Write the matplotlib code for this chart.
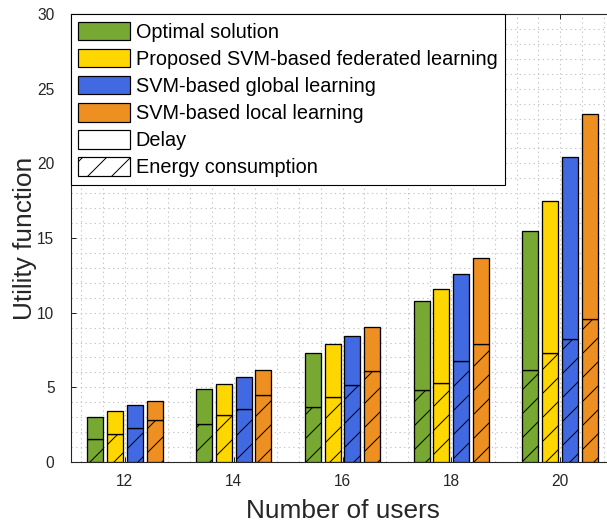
import numpy as np
import matplotlib
matplotlib.use('Agg')
import matplotlib.pyplot as plt
from matplotlib.patches import Patch
from matplotlib.ticker import MultipleLocator

# drawn at 72 dpi so that 1 pt == 1 px (also gives a 12 px hatch pitch)
DPI = 72
plt.rcParams['font.family'] = ['Liberation Sans', 'DejaVu Sans']
plt.rcParams['hatch.linewidth'] = 1.0

users = ['12', '14', '16', '18', '20']
schemes = ['Optimal solution', 'Proposed SVM-based federated learning',
           'SVM-based global learning', 'SVM-based local learning']
colors = ['#77a832', '#ffd700', '#4169e1', '#ee8f22']

# total utility (delay + energy) and the energy part of it
total = {
    'opt':    [3.03, 4.88, 7.27, 10.77, 15.45],
    'fed':    [3.39, 5.24, 7.91, 11.57, 17.48],
    'global': [3.81, 5.67, 8.43, 12.60, 20.45],
    'local':  [4.08, 6.13, 9.01, 13.67, 23.32],
}
energy = {
    'opt':    [1.54, 2.54, 3.66, 4.82, 6.15],
    'fed':    [1.89, 3.14, 4.33, 5.31, 7.31],
    'global': [2.29, 3.57, 5.15, 6.74, 8.25],
    'local':  [2.81, 4.50, 6.09, 7.91, 9.59],
}

fig = plt.figure(figsize=(607 / DPI, 523 / DPI), dpi=DPI)
ax = fig.add_axes([70.5 / 607, 61 / 523, 544 / 607, 448 / 523])

x = np.arange(1, len(users) + 1)
step = 0.182
width = 0.147
for i, key in enumerate(total):
    pos = x + (i - 1.5) * step
    e = np.array(energy[key])
    d = np.array(total[key]) - e
    ax.bar(pos, e, width, color=colors[i], edgecolor='black', linewidth=1.3,
           hatch='/', zorder=3)
    ax.bar(pos, d, width, bottom=e, color=colors[i], edgecolor='black',
           linewidth=1.3, zorder=3)

ax.set_xlim(0.5, 5.5)
ax.set_ylim(0, 30)
ax.set_xticks(x)
ax.set_xticklabels(users)
ax.set_yticks(np.arange(0, 31, 5))
ax.xaxis.set_minor_locator(MultipleLocator(0.2))
ax.yaxis.set_minor_locator(MultipleLocator(1))
ax.tick_params(which='major', direction='in', length=5, width=1,
               labelsize=15.5, top=True, right=True, colors='#262626')
ax.tick_params(axis='y', which='major', pad=16)
ax.tick_params(axis='x', which='major', pad=12)
ax.tick_params(which='minor', length=0)
ax.grid(True, which='both', linestyle=(0, (1.2, 3)), color='#c4c4c4',
        linewidth=1.1, zorder=0)
ax.set_axisbelow(True)
for s in ax.spines.values():
    s.set_color('#262626')
    s.set_linewidth(1.1)

ax.set_xlabel('Number of users', fontsize=26.2, color='#262626', labelpad=10.5)
ax.set_ylabel('Utility function', fontsize=26.2, color='#262626', labelpad=0)

handles = [Patch(facecolor=c, edgecolor='black', linewidth=1.2) for c in colors]
handles.append(Patch(facecolor='white', edgecolor='black', linewidth=1.2))
handles.append(Patch(facecolor='white', edgecolor='black', linewidth=1.2,
                     hatch='/'))
labels = schemes + ['Delay', 'Energy consumption']
leg = ax.legend(handles, labels, loc='upper left', bbox_to_anchor=(0, 1),
                borderaxespad=0, fontsize=19.9, handlelength=2.6,
                handleheight=1.05, handletextpad=0.3, labelspacing=0.36,
                borderpad=0.38, fancybox=False, framealpha=1,
                edgecolor='black')
leg.get_frame().set_linewidth(1.1)
leg.set_zorder(5)

fig.savefig('out.png', dpi=DPI)
